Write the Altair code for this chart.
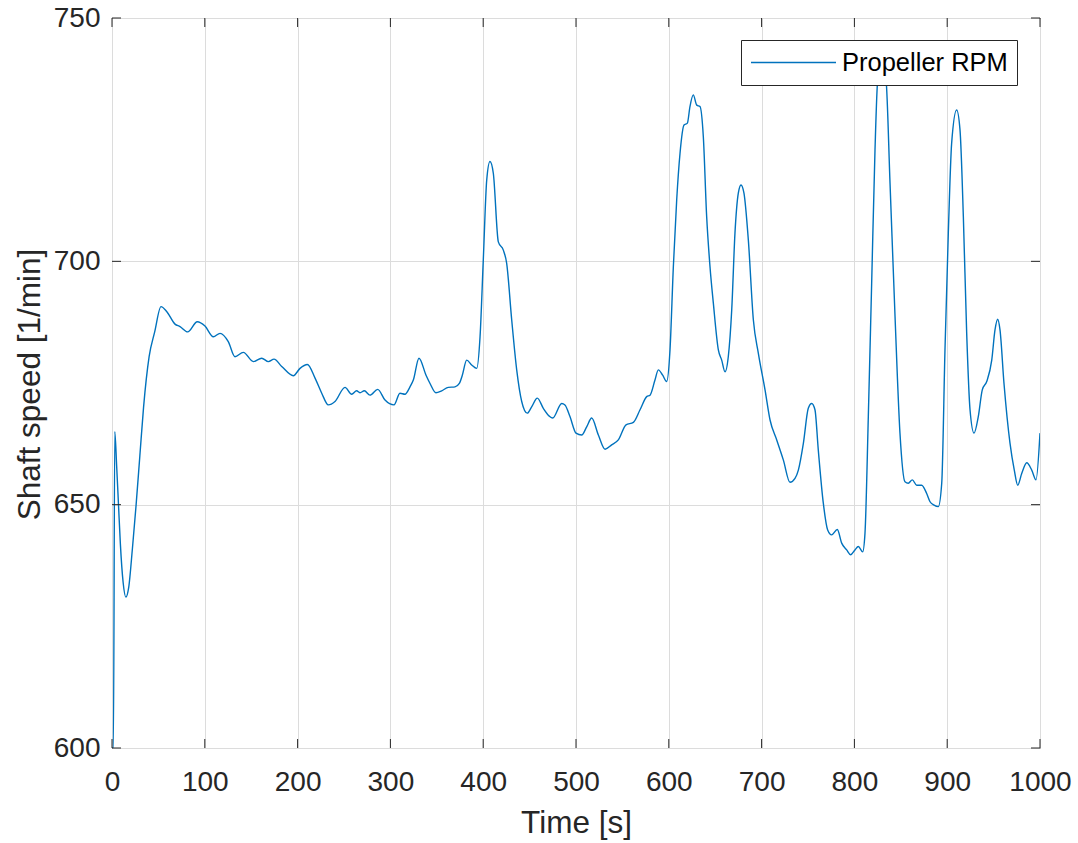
import altair as alt
import pandas as pd

# Time [s] and propeller shaft speed [1/min]
time_s = [0, 1.5, 3, 5, 7, 9, 12, 15, 18, 22, 26, 30, 34, 40, 46, 52.8, 58.9, 67.9, 73.3, 81.5,
          91.9, 100.2, 109.2, 116.4, 125.3, 132.5, 141.5, 152.3, 161.3, 168.5, 174.6, 182.9, 195.4,
          202.6, 210.5, 218.8, 226, 233.1, 240.3, 251.1, 258.3, 263.6, 267.2, 271.9, 278, 286.3,
          294.2, 303.9, 310.3, 315.7, 321.1, 324.7, 330.8, 338.4, 342.7, 349.1, 355.3, 362.4,
          369.6, 374.3, 377.5, 382.2, 387.6, 393, 396.6, 400.1, 403.8, 407.3, 410.9, 416.3, 421.7,
          425.3, 430.7, 436.1, 441.5, 447.5, 452.2, 458.3, 464.8, 471.2, 474.9, 484.6, 488.1,
          493.5, 500, 506.1, 511.5, 516.9, 524.1, 531.3, 538.4, 545.6, 553.9, 561.8, 569, 576.2,
          579.8, 585.1, 588.7, 593.4, 597.7, 601.3, 604.9, 608.5, 612.1, 616.4, 620, 622.8, 626.4,
          630.1, 633.6, 637.2, 640.8, 644.4, 648, 653.4, 657, 660.6, 664.1, 667.8, 671.3, 674.9,
          677.8, 681, 685.7, 691.1, 696.5, 703.7, 709.1, 716.3, 723.4, 730.6, 736, 739.6, 745,
          750.3, 754, 757.5, 761.1, 766.5, 771.2, 775.5, 781.6, 786.3, 791.7, 796, 800.6, 804.2,
          808.9, 811.4, 815, 818.6, 822.2, 825.1, 829.5, 834.1, 838.4, 843.8, 849.1, 854.5, 858.1,
          862.4, 867.1, 872.5, 877.9, 881.5, 885.8, 890.4, 894.1, 897.6, 901.2, 904.8, 910.2,
          913.8, 917.4, 921, 924.6, 928.9, 933.5, 937.8, 942.6, 948, 951.5, 954.4, 956.9, 961.2,
          967.7, 972.3, 976, 980.3, 985.7, 991.1, 995.7, 1000]
rpm = [600, 600, 665, 658, 650, 642, 634, 631, 633, 641, 650, 660, 670, 680.4, 685.5, 690.7, 689.7,
       687.1, 686.6, 685.5, 687.6, 686.7, 684.5, 685.2, 683.5, 680.4, 681.3, 679.4, 680.1, 679.4,
       679.9, 678.4, 676.5, 678.0, 678.8, 676.0, 672.9, 670.5, 671.2, 674.1, 672.7, 673.4, 673.0,
       673.4, 672.5, 673.7, 671.5, 670.5, 672.9, 672.7, 674.2, 675.6, 680.1, 676.6, 674.9, 673.0,
       673.4, 674.1, 674.2, 674.9, 676.6, 679.7, 678.7, 678.0, 684.5, 700.3, 716.7, 720.5, 718.1,
       704.0, 702.3, 699.6, 688.0, 677.7, 671.2, 668.8, 670.1, 671.9, 669.8, 668.2, 667.8, 670.8,
       670.5, 668.1, 664.7, 664.3, 666.0, 667.8, 664.3, 661.4, 662.3, 663.3, 666.4, 666.9, 669.5,
       672.2, 672.5, 675.6, 677.7, 676.6, 675.3, 681.8, 698.9, 712.6, 722.2, 728.0, 728.4, 731.8,
       734.2, 732.1, 731.8, 725.6, 709.2, 698.9, 691.4, 681.8, 679.7, 677.3, 680.4, 690.0, 705.8,
       714.0, 715.7, 714.0, 704.4, 688.0, 681.1, 673.6, 667.4, 663.3, 659.2, 654.6, 655.4, 657.1,
       662.6, 669.8, 670.8, 669.5, 661.2, 650.3, 644.8, 643.8, 644.9, 642.1, 640.7, 639.7, 640.7,
       641.4, 640.3, 644.1, 668.1, 695.5, 722.9, 737.3, 741.0, 737.3, 716.0, 688.6, 664.7, 654.7,
       654.4, 655.1, 654.0, 654.0, 652.3, 650.6, 649.9, 649.6, 654.4, 681.8, 705.8, 724.3, 731.1,
       727.0, 709.2, 685.2, 669.5, 664.7, 668.1, 673.6, 675.3, 679.7, 685.9, 688.1, 685.9, 674.9,
       662.6, 657.1, 654.0, 656.4, 658.6, 657.1, 655.1, 664.7]

x_ticks = [0, 100, 200, 300, 400, 500, 600, 700, 800, 900, 1000]
y_ticks = [600, 650, 700, 750]
series_name = "Propeller RPM"

FONT = "Liberation Sans"
INK = "#262626"
GRID = "#dcdcdc"
W, H = 928, 730

df = pd.DataFrame({"t": time_s, "rpm": rpm, "series": series_name})
xt = pd.DataFrame({"t": x_ticks})
yt = pd.DataFrame({"rpm": y_ticks})

xscale = alt.Scale(domain=[0, 1000], nice=False, zero=False)
yscale = alt.Scale(domain=[600, 750], nice=False, zero=False)

xaxis = alt.Axis(
    values=x_ticks, format="d", grid=True, gridColor=GRID, domain=False, ticks=False,
    labelFlush=False, labelOverlap=False,
    labelFont=FONT, labelFontSize=28, labelColor=INK, labelPadding=20,
    title="Time [s]", titleFont=FONT, titleFontSize=31.5, titleFontWeight="normal",
    titleColor=INK, titleY=84, titleBaseline="alphabetic")
yaxis = alt.Axis(
    values=y_ticks, format="d", grid=True, gridColor=GRID, domain=False, ticks=False,
    labelFlush=False, labelOverlap=False,
    labelFont=FONT, labelFontSize=28, labelColor=INK, labelPadding=12,
    title="Shaft speed [1/min]", titleFont=FONT, titleFontSize=31.5,
    titleFontWeight="normal", titleColor=INK, titleX=-73, titleY=H / 2 + 1,
    titleAngle=270, titleAlign="center", titleBaseline="alphabetic")

X = alt.X("t:Q", scale=xscale, axis=xaxis)
Y = alt.Y("rpm:Q", scale=yscale, axis=yaxis)

line = alt.Chart(df).mark_line(strokeWidth=1.4, clip=True, interpolate="monotone").encode(
    x=X, y=Y,
    color=alt.Color("series:N", scale=alt.Scale(domain=[series_name], range=["#0072BD"]),
                    legend=alt.Legend(
                        title=None, orient="none", legendX=629, legendY=22,
                        fillColor="white", strokeColor=INK, padding=9,
                        symbolType="M-3.4,0H3.4", symbolSize=625, symbolStrokeWidth=1.4,
                        symbolOffset=30, labelLimit=400,
                        labelFont=FONT, labelFontSize=25.5, labelColor="black",
                        labelOffset=35, cornerRadius=0)),
)

top_ticks = alt.Chart(xt).mark_rule(color=INK, strokeWidth=1).encode(
    x=X, y=alt.value(0), y2=alt.value(9))
bottom_ticks = alt.Chart(xt).mark_rule(color=INK, strokeWidth=1).encode(
    x=X, y=alt.value(H - 9), y2=alt.value(H))
left_ticks = alt.Chart(yt).mark_rule(color=INK, strokeWidth=1).encode(
    y=Y, x=alt.value(0), x2=alt.value(9))
right_ticks = alt.Chart(yt).mark_rule(color=INK, strokeWidth=1).encode(
    y=Y, x=alt.value(W - 9), x2=alt.value(W))

chart = alt.layer(line, top_ticks, bottom_ticks, left_ticks, right_ticks).properties(
    width=W, height=H,
    padding={"left": 112, "top": 18, "right": 38, "bottom": 95},
    autosize=alt.AutoSizeParams(type="none"),
    background="white",
).configure_view(stroke=INK, strokeWidth=1)

chart.save("out.html", embed_options={"renderer": "svg", "actions": False})
